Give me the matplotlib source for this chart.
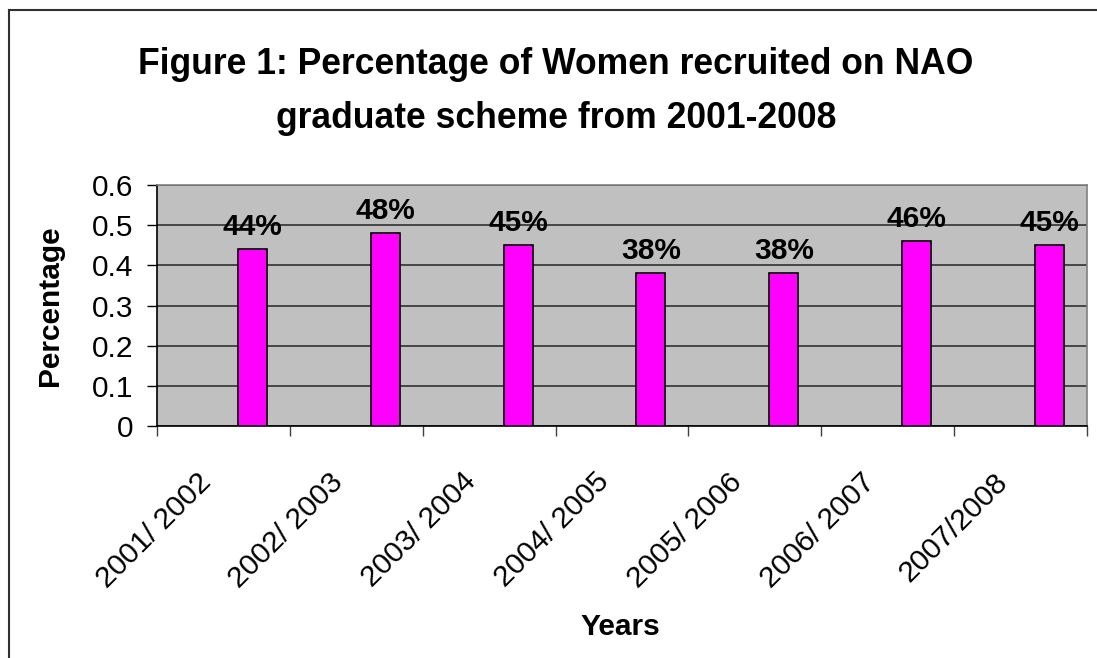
import matplotlib.pyplot as plt
from matplotlib.lines import Line2D
from matplotlib.transforms import ScaledTranslation

plt.rcParams['font.family'] = ['Liberation Sans', 'DejaVu Sans']

# Share of women recruited each year
years = ['2001/ 2002', '2002/ 2003', '2003/ 2004', '2004/ 2005',
         '2005/ 2006', '2006/ 2007', '2007/2008']
share = [0.44, 0.48, 0.45, 0.38, 0.38, 0.46, 0.45]
share_labels = ['44%', '48%', '45%', '38%', '38%', '46%', '45%']

fig = plt.figure(figsize=(10.97, 6.58), dpi=100)
ax = fig.add_axes([0.1431, 0.3526, 0.8478, 0.3662])
ax.set_facecolor('#C0C0C0')

# bars sit in the right third of each category slot
bw = 0.218
xs = [i + bw for i in range(len(years))]
ax.bar(xs, share, width=bw, color='#FF00FF', edgecolor='black', linewidth=1.2, zorder=3)

for x, v, lab in zip(xs, share, share_labels):
    ax.annotate(lab, (x, v), xytext=(0, 6), textcoords='offset points',
                ha='center', va='bottom', fontsize=21.5, fontweight='bold')

ax.set_xlim(-0.5, len(years) - 0.5)
ax.set_ylim(0, 0.6)
ax.set_yticks([0, 0.1, 0.2, 0.3, 0.4, 0.5, 0.6])
ax.set_yticklabels(['0', '0.1', '0.2', '0.3', '0.4', '0.5', '0.6'], fontsize=21.5)
ax.yaxis.grid(True, color='#303030', linewidth=1.2, zorder=1)
ax.set_axisbelow(True)
ax.tick_params(axis='y', length=7, width=1, direction='out', pad=10)

ax.set_xticks(range(len(years)))
ax.set_xticklabels(years, rotation=45, ha='right', rotation_mode='anchor', fontsize=21.5)
ax.tick_params(axis='x', length=0, pad=30)
shift = ScaledTranslation(-27 / 100, 0, fig.dpi_scale_trans)
for t in ax.get_xticklabels():
    t.set_transform(t.get_transform() + shift)
ax.set_xticks([i - 0.5 for i in range(len(years) + 1)], minor=True)
ax.tick_params(axis='x', which='minor', length=7, width=1, color='#404040')

for s in ['top', 'right']:
    ax.spines[s].set_color('#808080')
    ax.spines[s].set_linewidth(1.2)
for s in ['left', 'bottom']:
    ax.spines[s].set_color('black')
    ax.spines[s].set_linewidth(1.2)

fig.text(50 / 1097, 1 - 306 / 658, 'Percentage', rotation=90, ha='center', va='center',
         fontsize=21.5, fontweight='bold')
fig.text(620 / 1097, 1 - 627 / 658, 'Years', ha='center', va='center',
         fontsize=21.5, fontweight='bold')

fig.text(0.507, 1 - 65 / 658, 'Figure 1: Percentage of Women recruited on NAO',
         ha='center', va='center', fontsize=25.6, fontweight='bold')
fig.text(0.507, 1 - 118 / 658, 'graduate scheme from 2001-2008',
         ha='center', va='center', fontsize=25.6, fontweight='bold')

# outer chart frame, left and top edges
fig.add_artist(Line2D([0.008, 0.008], [0, 0.985], color='#303030', linewidth=1.5))
fig.add_artist(Line2D([0.008, 1.0], [0.985, 0.985], color='#303030', linewidth=1.5))

fig.savefig('out.png', dpi=100)
